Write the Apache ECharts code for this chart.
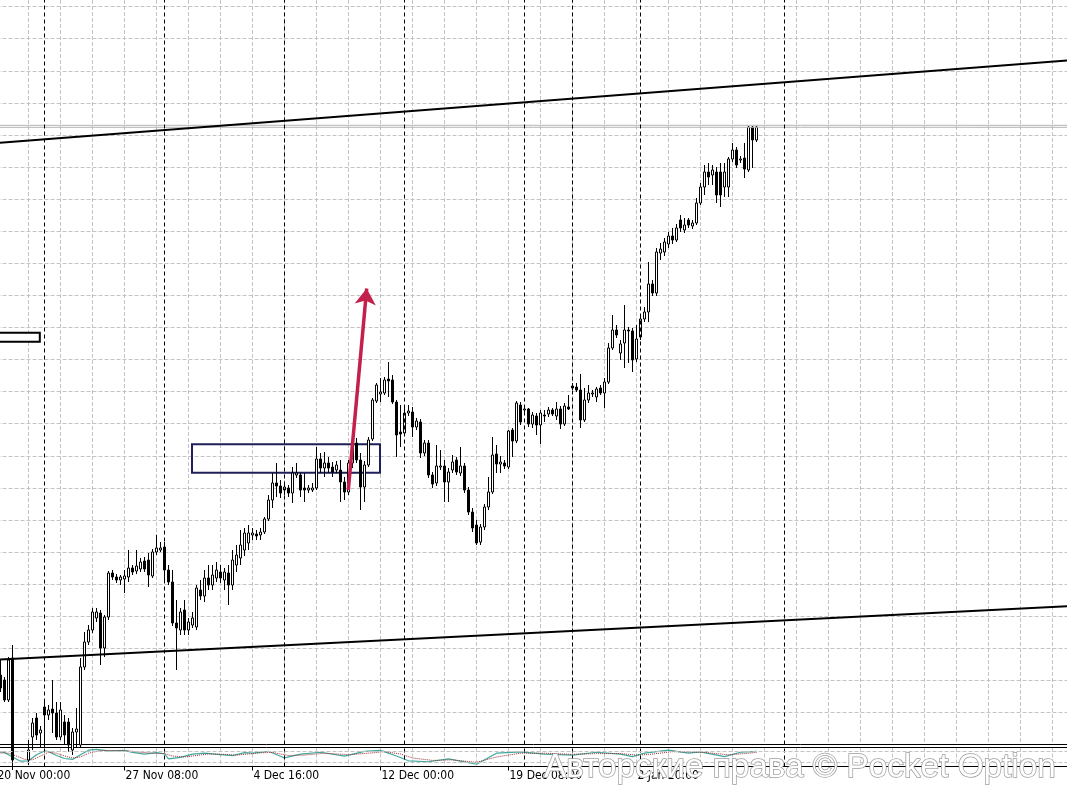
<!DOCTYPE html>
<html><head><meta charset="utf-8">
<script src="https://cdn.jsdelivr.net/npm/echarts@6/dist/echarts.min.js"></script>
<style>html,body{margin:0;padding:0;background:#fff}#c{width:1067px;height:786px}</style>
</head><body><div id="c"></div><script>
// ---- data (H4 candles, arbitrary price units) ----
const tickLabels = ['20 Nov 00:00','27 Nov 08:00','4 Dec 16:00','12 Dec 00:00','19 Dec 08:00','2 Jan 20:00'];
const weekSeparators = [12, 42, 72, 102, 132, 144, 161, 197];

const open = [
310,325,320,300,342,240,225,235,240,263,
282,267,293,285,291,287,263,278,278,250,
268,255,333,358,370,382,387,352,383,427,
423,420,421,423,432,429,431,439,440,424,
448,450,453,430,418,377,370,390,370,375,
373,410,404,422,415,422,428,420,427,415,
435,442,450,457,465,466,465,468,481,500,
517,514,510,512,507,525,525,512,510,510,
512,541,532,537,533,530,530,518,508,537,
557,540,513,535,561,599,606,607,621,620,
598,568,567,587,588,573,578,547,557,525,
517,533,534,518,530,540,527,534,510,488,
475,458,473,493,508,546,536,537,533,570,
559,595,590,591,576,584,575,585,586,590,
584,591,576,593,614,613,610,580,600,606,
603,612,607,618,652,670,647,657,670,669,
641,663,681,688,716,707,747,748,756,764,
760,780,770,780,774,777,797,813,828,825,
828,828,813,813,841,850,840,842,830,873,860];
const close = [
320,312,300,340,240,225,235,242,250,277,
265,270,285,290,287,263,290,265,255,268,
271,333,358,370,388,388,352,383,427,423,
420,423,424,432,428,434,438,431,425,448,
452,452,430,418,377,372,388,370,378,382,
412,404,422,415,425,430,422,428,415,440,
445,455,467,467,467,464,468,481,500,517,
514,507,513,507,527,527,510,510,512,512,
541,532,537,532,528,535,518,508,537,555,
540,513,535,560,600,615,608,620,619,598,
565,566,587,589,573,579,547,557,525,516,
534,534,518,528,538,528,534,510,488,472,
457,473,493,508,545,536,538,534,569,559,
597,578,591,576,585,575,587,584,590,586,
591,576,594,591,612,610,580,600,607,607,
611,607,618,652,670,665,656,670,669,640,
661,681,688,716,707,748,751,758,764,760,
772,772,775,775,777,797,813,828,823,830,
805,805,828,841,850,835,841,831,873,860,873];
const low = [
300,308,298,298,230,220,215,230,235,250,
260,252,252,280,267,260,260,255,248,245,
252,252,330,355,367,378,335,343,380,420,
417,415,407,418,425,426,428,428,413,422,
445,448,418,415,374,330,365,365,365,372,
370,400,398,410,410,418,417,410,395,410,
428,435,444,450,460,460,460,466,479,492,
503,502,505,503,497,522,503,498,507,508,
510,527,523,527,523,527,498,500,505,532,
537,490,498,533,559,597,598,605,603,596,
543,553,564,584,563,570,542,544,522,512,
514,530,498,498,527,525,524,507,485,468,
455,455,470,490,506,527,527,531,531,543,
557,575,587,573,572,565,556,578,583,584,
580,571,574,590,610,608,572,578,597,603,
598,605,592,616,650,662,640,632,637,628,
638,660,678,678,704,704,740,744,752,756,
758,768,767,772,771,775,795,805,815,815,
797,793,803,803,838,832,837,822,828,832,858];
const high = [
325,340,323,343,355,248,242,250,260,282,
287,274,298,295,320,298,298,285,282,272,
292,342,368,375,392,392,390,385,429,430,
426,425,430,450,435,450,442,443,447,451,
465,458,458,435,430,400,392,400,382,388,
415,420,430,435,435,438,435,432,435,450,
455,470,472,475,472,470,472,483,505,527,
537,520,518,515,533,537,527,527,515,517,
553,547,548,543,538,539,540,523,540,560,
562,547,539,563,602,617,622,623,638,625,
600,595,593,595,593,582,581,560,560,528,
555,550,540,532,545,543,553,537,513,492,
480,476,496,523,563,555,544,540,570,572,
599,598,595,592,588,587,590,590,593,592,
598,594,597,605,617,617,626,612,615,610,
613,615,622,657,685,675,660,695,673,672,
675,685,693,738,720,752,757,762,768,772,
776,785,782,782,780,802,817,835,837,835,
833,837,837,843,857,853,844,857,874,874,874];

// drawn objects, in [bar index, price]
const upperTrend = [[0, 857.0], [268, 939.7]];
const lowerTrend = [[0, 340.3], [268, 393.9]];
const priceLines = [874.7, 872.7];
const zoneBox = [[48.875, 555.7], [95.875, 527.3]];
const leftBox = [[0, 667.3], [10.825, 658.3]];
const arrowPath = [[87.95, 510], [92.55, 711.5]];

// oscillator (0..100), [bar index, value]
const stochMain = [[0,78],[2,74],[4,50],[6,28],[8,30],[10,62],[12,82],[13,79],[15,58],[17,42],[19,37],[21,62],[23,86],[25,90],[28,82],[32,85],[34,74],[37,65],[40,73],[42,66],[43,40],[46,48],[49,65],[52,70],[56,62],[59,57],[62,73],[64,70],[68,80],[72,45],[76,65],[81,75],[87,55],[92,80],[96,85],[100,55],[103,30],[108,25],[113,40],[120,12],[125,70],[131,77],[137,65],[144,60],[150,75],[156,65],[159,52],[162,70],[168,86],[173,70],[176,77],[182,52],[186,75],[190,80]];
const stochSignal = [[0,72],[3,70],[5,55],[7,38],[9,35],[11,55],[13,75],[15,70],[17,55],[19,45],[21,50],[23,70],[26,84],[29,84],[33,82],[36,75],[39,70],[42,68],[44,55],[47,50],[50,58],[53,66],[57,64],[60,60],[63,66],[66,72],[69,74],[73,58],[77,60],[82,70],[88,62],[93,70],[97,78],[101,66],[104,45],[109,32],[114,35],[120,22],[125,50],[131,70],[137,70],[144,64],[150,68],[156,68],[160,60],[163,63],[169,78],[174,76],[177,74],[183,62],[187,68],[190,74]];
const stochLevels = [20, 80];

// ---- chart ----
const SLOTS = 269, LABEL_STEP = 32, GRID_STEP = 8;
const barSlots = Array.from({length: SLOTS}, (_, i) => 'b' + i);
const candles = open.map((o, i) => [o, close[i], low[i], high[i]]);

const gridLine = {color: '#c4c4c4', type: [4, 2], width: 1};
const sepLine = {color: '#000', type: [4, 3], width: 1};
const labelAt = (i) => i % LABEL_STEP === 0 && i / LABEL_STEP < tickLabels.length;

const chart = echarts.init(document.getElementById('c'), null, {renderer: 'canvas'});
chart.setOption({
  animation: false,
  backgroundColor: '#ffffff',
  grid: [
    {left: -3.5, right: -1.5, top: 0, height: 744.5, outerBoundsMode: 'none'},
    {left: -3.5, right: -1.5, top: 747.5, height: 19, outerBoundsMode: 'none'}
  ],
  xAxis: [
    {gridIndex: 0, type: 'category', data: barSlots, boundaryGap: false,
     axisLine: {show: true, onZero: false, lineStyle: {color: '#000', width: 1}},
     axisTick: {show: false}, axisLabel: {show: false},
     splitLine: {show: true, interval: (i) => i % GRID_STEP === 0, lineStyle: gridLine}},
    {gridIndex: 1, type: 'category', data: barSlots, boundaryGap: false, position: 'bottom',
     axisLine: {show: true, onZero: false, lineStyle: {color: '#000', width: 1}},
     axisTick: {show: true, inside: false, length: 4, interval: labelAt, lineStyle: {color: '#000'}},
     axisLabel: {show: true, interval: labelAt, formatter: (v, i) => tickLabels[i / LABEL_STEP] || '',
       align: 'left', verticalAlign: 'top', margin: 2, padding: [0, 0, 0, 1],
       fontSize: 12, lineHeight: 14, color: '#000',
       fontFamily: "'DejaVu Sans Condensed', 'DejaVu Sans', sans-serif"},
     splitLine: {show: true, interval: (i) => i % GRID_STEP === 0, lineStyle: gridLine}},
    {gridIndex: 0, type: 'value', min: 0, max: SLOTS - 1, show: false},
    {gridIndex: 1, type: 'value', min: 0, max: SLOTS - 1, show: false},
    {gridIndex: 1, type: 'category', data: barSlots, boundaryGap: false, position: 'top',
     axisLine: {show: true, onZero: false, lineStyle: {color: '#000', width: 1}},
     axisTick: {show: false}, axisLabel: {show: false}, splitLine: {show: false}}
  ],
  yAxis: [
    {gridIndex: 0, type: 'value', min: 255.5, max: 1000, interval: 32.08,
     axisLine: {show: false}, axisTick: {show: false}, axisLabel: {show: false},
     splitLine: {show: true, showMinLine: false, showMaxLine: false, lineStyle: gridLine}},
    {gridIndex: 1, type: 'value', min: 0, max: 100, show: false}
  ],
  series: [
    {type: 'line', xAxisIndex: 2, yAxisIndex: 0, data: [], z: 1, silent: true,
     markLine: {silent: true, symbol: ['none', 'none'], label: {show: false}, lineStyle: sepLine,
       data: weekSeparators.map(v => ({xAxis: v}))}},
    {type: 'candlestick', xAxisIndex: 0, yAxisIndex: 0, data: candles, barWidth: 2, clip: true, z: 3,
     itemStyle: {color: '#ffffff', color0: '#000000', borderColor: '#000000', borderColor0: '#000000',
       borderColorDoji: '#000000', borderWidth: 1}},
    {type: 'line', xAxisIndex: 2, yAxisIndex: 0, data: upperTrend, symbol: 'none', z: 5, silent: true,
     lineStyle: {color: '#000', width: 2}},
    {type: 'line', xAxisIndex: 2, yAxisIndex: 0, data: lowerTrend, symbol: 'none', z: 5, silent: true,
     lineStyle: {color: '#000', width: 2}},
    {type: 'line', xAxisIndex: 2, yAxisIndex: 0, data: [[0, priceLines[0]], [SLOTS - 1, priceLines[0]]],
     symbol: 'none', z: 4, silent: true, lineStyle: {color: '#b4b4b4', width: 1}},
    {type: 'line', xAxisIndex: 2, yAxisIndex: 0, data: [[0, priceLines[1]], [SLOTS - 1, priceLines[1]]],
     symbol: 'none', z: 4, silent: true, lineStyle: {color: '#b4b4b4', width: 1}},
    {type: 'line', xAxisIndex: 2, yAxisIndex: 0, data: [], z: 6, silent: true,
     markArea: {silent: true, data: [
       [{coord: zoneBox[0], itemStyle: {color: 'rgba(0,0,0,0)', borderColor: '#1f1f5a', borderWidth: 2}}, {coord: zoneBox[1]}],
       [{coord: leftBox[0], itemStyle: {color: '#ffffff', borderColor: '#000000', borderWidth: 2}}, {coord: leftBox[1]}]
     ]}},
    {type: 'lines', coordinateSystem: 'cartesian2d', xAxisIndex: 2, yAxisIndex: 0, z: 7, silent: true,
     data: [{coords: arrowPath}], symbol: ['none', 'arrow'], symbolSize: 16,
     lineStyle: {color: '#c4204c', width: 3.5, opacity: 1}},
    {type: 'line', xAxisIndex: 3, yAxisIndex: 1, data: [], z: 1, silent: true,
     markLine: {silent: true, symbol: ['none', 'none'], label: {show: false},
       data: weekSeparators.map(v => ({xAxis: v, lineStyle: sepLine}))
         .concat(stochLevels.map(v => ({yAxis: v, lineStyle: gridLine})))}},
    {type: 'line', xAxisIndex: 3, yAxisIndex: 1, data: stochMain, symbol: 'none', z: 3, silent: true,
     lineStyle: {color: '#3fa89e', width: 1.2}},
    {type: 'line', xAxisIndex: 3, yAxisIndex: 1, data: stochSignal, symbol: 'none', z: 3, silent: true,
     lineStyle: {color: '#9c2f2f', width: 1, type: 'dotted'}}
  ],
  graphic: [{
    type: 'text', x: 544, y: 751.5, z: 100, silent: true,
    style: {text: 'Авторские права © Pocket Option', fontSize: 33.3,
      fontFamily: "'Liberation Sans', Arial, sans-serif", fill: '#ffffff',
      stroke: '#9c9c9c', lineWidth: 1.5, align: 'left', verticalAlign: 'top'}
  }]
});
</script></body></html>
